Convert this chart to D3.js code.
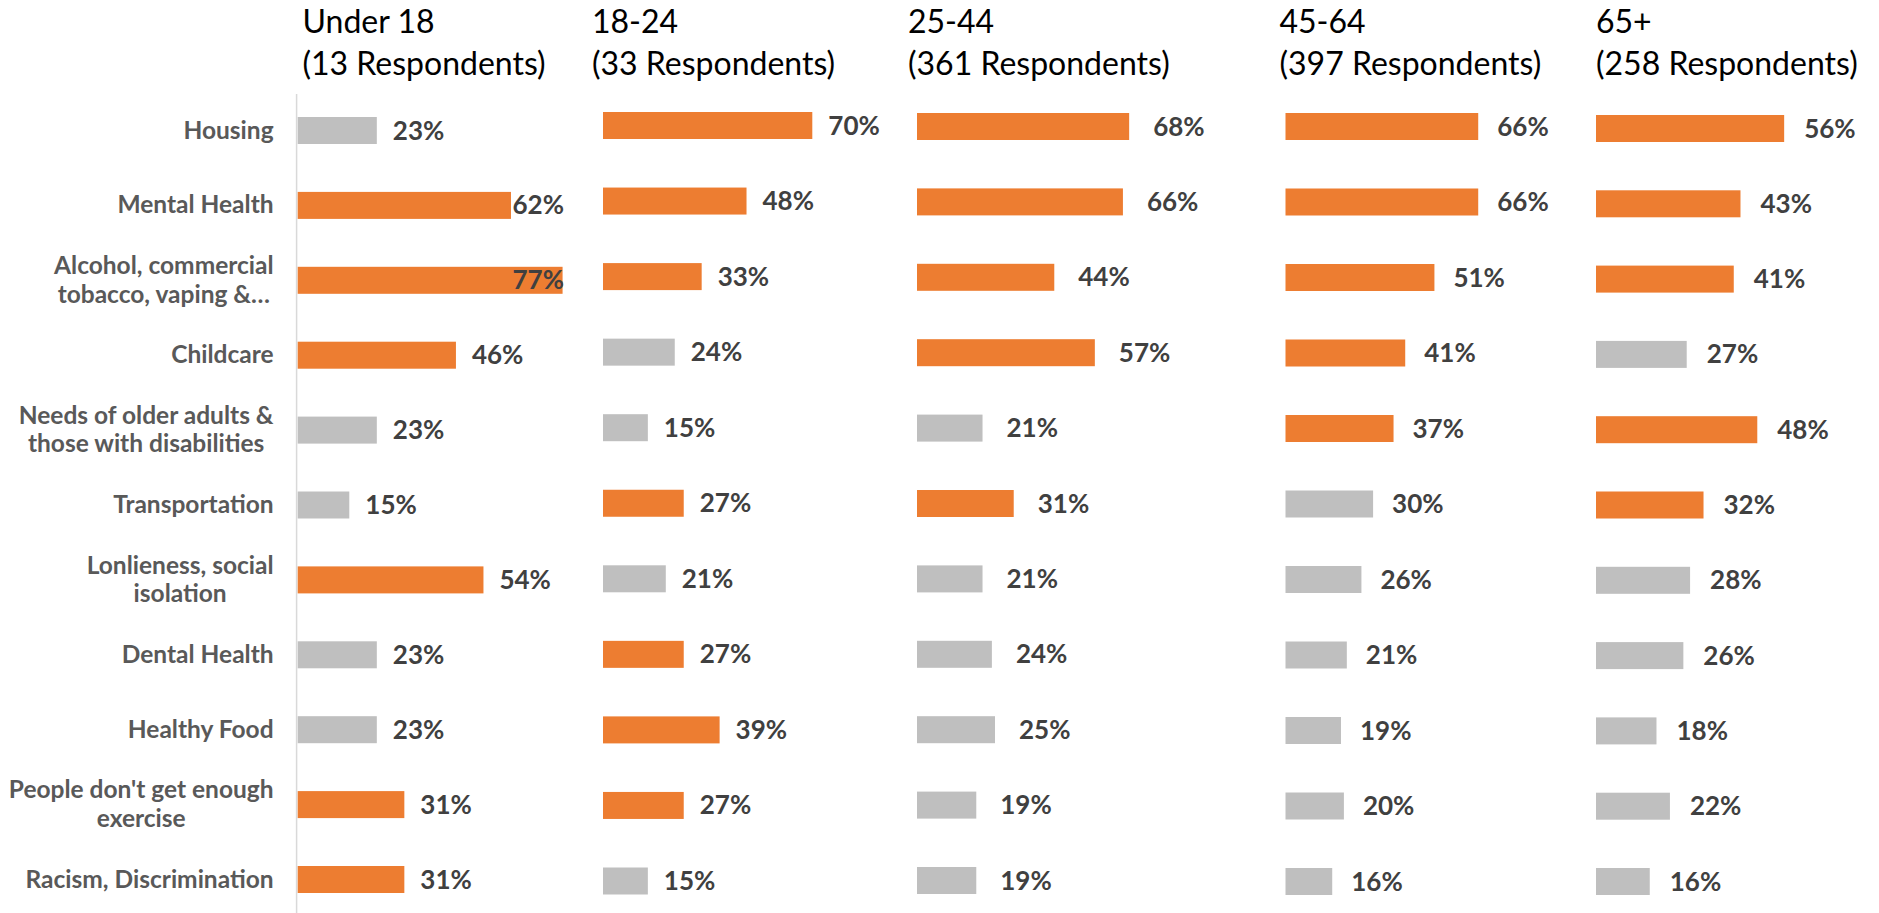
<!DOCTYPE html>
<html>
<head>
<meta charset="utf-8">
<script src="https://cdn.jsdelivr.net/npm/d3@7"></script>
<style>
  html, body { margin: 0; padding: 0; background: #fff; }
  svg { display: block; }
  .head     { font-family: Lato, "Noto Sans", sans-serif; font-size: 32px; fill: #000; }
  .cat      { font-family: Lato, "Noto Sans", sans-serif; font-size: 24.5px; font-weight: 700; fill: #595959; }
  .val      { font-family: Lato, "Noto Sans", sans-serif; font-size: 26px; font-weight: 700; fill: #404040; }
</style>
</head>
<body>
<script>
/* ---------- Dados ---------- */
const categories = [
  ['Housing'],
  ['Mental Health'],
  ['Alcohol, commercial', 'tobacco, vaping &…'],
  ['Childcare'],
  ['Needs of older adults &', 'those with disabilities'],
  ['Transportation'],
  ['Lonlieness, social', 'isolation'],
  ['Dental Health'],
  ['Healthy Food'],
  ["People don't get enough", 'exercise'],
  ['Racism, Discrimination']
];

const ageGroups   = ['Under 18', '18-24', '25-44', '45-64', '65+'];
const respondents = [13, 33, 361, 397, 258];

const under18 = [23, 62, 77, 46, 23, 15, 54, 23, 23, 31, 31];
const age1824 = [70, 48, 33, 24, 15, 27, 21, 27, 39, 27, 15];
const age2544 = [68, 66, 44, 57, 21, 31, 21, 24, 25, 19, 19];
const age4564 = [66, 66, 51, 41, 37, 30, 26, 21, 19, 20, 16];
const age65up = [56, 43, 41, 27, 48, 32, 28, 26, 18, 22, 16];

const series = [under18, age1824, age2544, age4564, age65up];

/* ---------- Layout (cada painel tem sua própria escala) ---------- */
const W = 1879, H = 913;
const panels = [
  { left: 297.7, w100: 344, gap: 16, maxRight: 564,  headX: 302.5, top: 130.5, bottom: 879.5 },
  { left: 603,   w100: 299, gap: 16, maxRight: 9999, headX: 592,   top: 125.5, bottom: 881 },
  { left: 917,   w100: 312, gap: 24, maxRight: 9999, headX: 908,   top: 126.5, bottom: 880.5 },
  { left: 1285.5,w100: 292, gap: 19, maxRight: 9999, headX: 1279.5,top: 126.5, bottom: 881.5 },
  { left: 1596,  w100: 336, gap: 20, maxRight: 9999, headX: 1596,  top: 128.5, bottom: 881.5 }
];
const barH   = 27;
const orange = '#ED7D31';
const grey   = '#BFBFBF';
const catRight = 273.6;

const svg = d3.select('body').append('svg')
  .attr('width', W).attr('height', H);

/* ---------- Linha do eixo (só no primeiro painel) ---------- */
svg.append('line')
  .attr('x1', 296.6).attr('x2', 296.6)
  .attr('y1', 94).attr('y2', H)
  .attr('stroke', '#D9D9D9').attr('stroke-width', 1.5);

/* ---------- Rótulos de categoria ---------- */
const yCat = d3.scalePoint().domain(d3.range(categories.length))
  .range([panels[0].top, panels[0].bottom]);
const lineH = 28.7;

categories.forEach((lines, i) => {
  const t = svg.append('text').attr('class', 'cat').attr('text-anchor', 'middle');
  const y0 = yCat(i) + 8 - (lines.length - 1) * lineH / 2;
  lines.forEach((ln, k) => {
    t.append('tspan').attr('y', y0 + k * lineH).text(ln);
  });
  const maxW = d3.max(t.selectAll('tspan').nodes(), n => n.getComputedTextLength());
  t.selectAll('tspan').attr('x', catRight - maxW / 2);
});

/* ---------- Painéis ---------- */
series.forEach((vals, p) => {
  const L = panels[p];
  const x = d3.scaleLinear().domain([0, 100]).range([L.left, L.left + L.w100]);
  const y = d3.scalePoint().domain(d3.range(vals.length)).range([L.top, L.bottom]);

  // top 5 (com empates) em laranja
  const cut = [...vals].sort((a, b) => b - a)[4];

  const g = svg.append('g');

  // cabeçalho
  const head = g.append('text').attr('class', 'head');
  head.append('tspan').attr('x', L.headX).attr('y', 33).text(ageGroups[p]);
  head.append('tspan').attr('x', L.headX).attr('y', 75).text(`(${respondents[p]} Respondents)`);

  g.selectAll('rect')
    .data(vals).enter()
    .append('rect')
    .attr('x', x(0))
    .attr('y', (d, i) => y(i) - barH / 2)
    .attr('width', d => x(d) - x(0))
    .attr('height', barH)
    .attr('fill', d => d >= cut ? orange : grey);

  g.selectAll('text.val')
    .data(vals).enter()
    .append('text')
    .attr('class', 'val')
    .attr('x', d => x(d) + L.gap)
    .attr('y', (d, i) => y(i) + 9)
    .text(d => d + '%')
    .each(function () {
      const len = this.getComputedTextLength();
      const xx  = +this.getAttribute('x');
      if (xx + len > L.maxRight) this.setAttribute('x', L.maxRight - len);
    });
});
</script>
</body>
</html>
